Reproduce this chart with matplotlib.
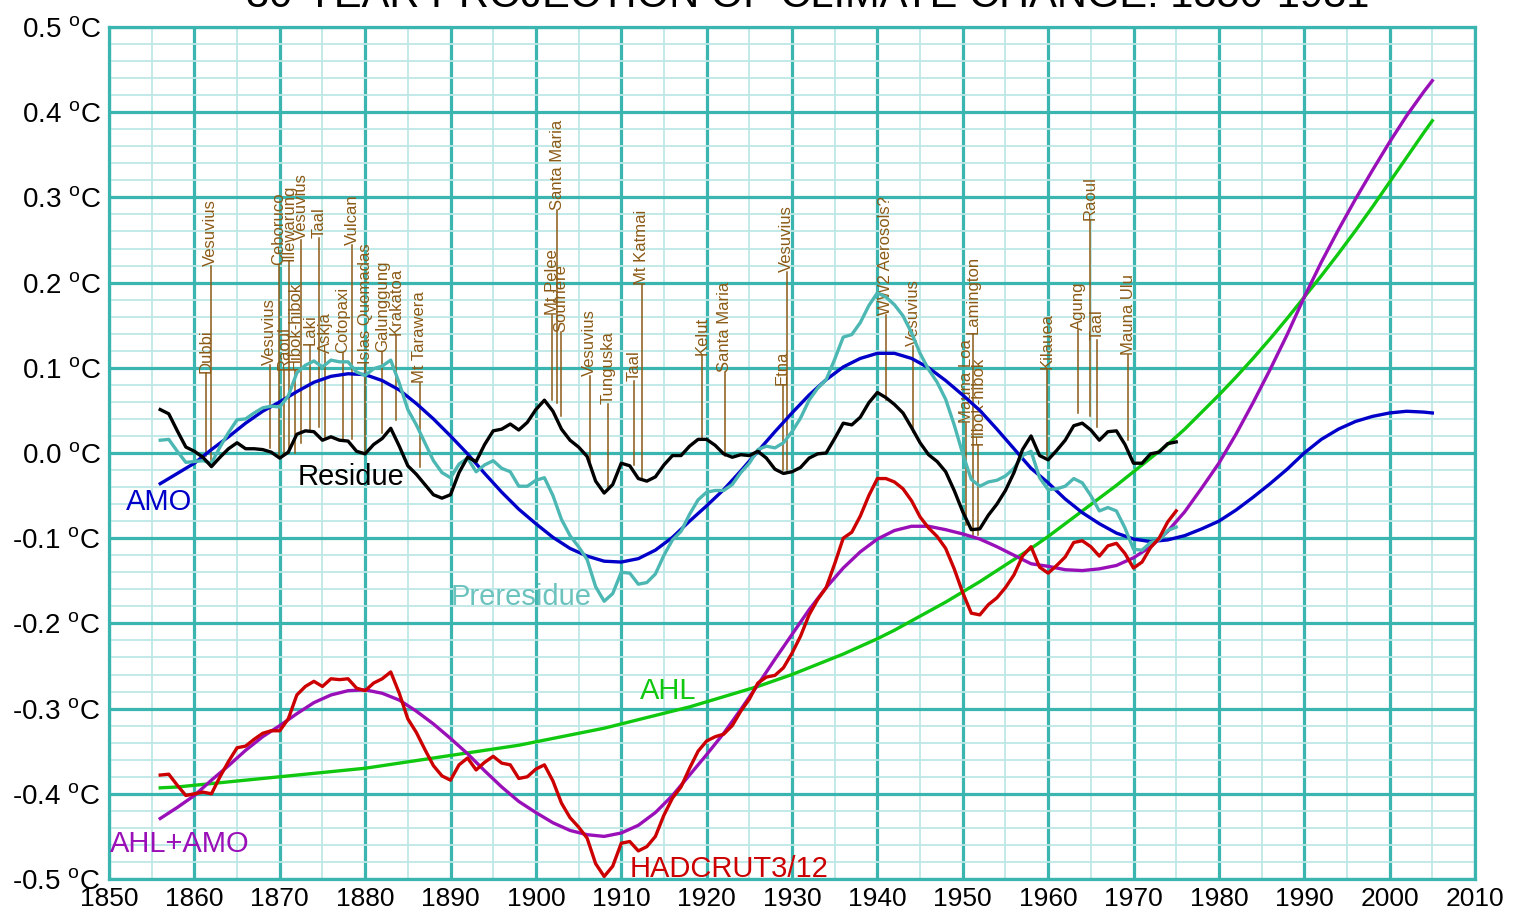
import matplotlib
matplotlib.use("Agg")
import matplotlib.pyplot as plt
from matplotlib.ticker import MultipleLocator

plt.rcParams['font.family'] = ['Liberation Sans', 'DejaVu Sans']
plt.rcParams['mathtext.fontset'] = 'custom'
plt.rcParams['mathtext.rm'] = 'Liberation Sans'
plt.rcParams['mathtext.it'] = 'Liberation Sans:italic'

# smooth model curves, sampled every 2 years (plus 2005)
model_years = list(range(1856, 2005, 2)) + [2005]

amo = [-0.036, -0.024, -0.012, 0.004, 0.019, 0.035, 0.049, 0.060, 0.072, 0.083,
       0.090, 0.093, 0.092, 0.085, 0.074, 0.058, 0.040, 0.020, -0.001, -0.024,
       -0.046, -0.066, -0.083, -0.099, -0.112, -0.121, -0.127, -0.128, -0.124, -0.114,
       -0.099, -0.080, -0.062, -0.043, -0.021, 0.002, 0.025, 0.047, 0.068, 0.086,
       0.101, 0.111, 0.117, 0.117, 0.111, 0.100, 0.085, 0.068, 0.050, 0.028,
       0.005, -0.018, -0.035, -0.054, -0.070, -0.083, -0.094, -0.101, -0.104, -0.102,
       -0.097, -0.089, -0.080, -0.067, -0.052, -0.036, -0.019, 0.000, 0.016, 0.028,
       0.037, 0.043, 0.047, 0.049, 0.048, 0.047]

ahl = [-0.393, -0.392, -0.390, -0.388, -0.386, -0.384, -0.382, -0.380, -0.378, -0.376,
       -0.374, -0.372, -0.370, -0.367, -0.364, -0.361, -0.358, -0.355, -0.352, -0.349,
       -0.346, -0.343, -0.339, -0.335, -0.331, -0.327, -0.323, -0.318, -0.313, -0.308,
       -0.303, -0.298, -0.292, -0.286, -0.280, -0.274, -0.267, -0.260, -0.252, -0.244,
       -0.236, -0.227, -0.218, -0.208, -0.197, -0.186, -0.175, -0.163, -0.151, -0.138,
       -0.125, -0.112, -0.098, -0.083, -0.068, -0.053, -0.038, -0.022, -0.006, 0.010,
       0.028, 0.048, 0.068, 0.089, 0.111, 0.134, 0.158, 0.183, 0.208, 0.234,
       0.261, 0.289, 0.318, 0.347, 0.376, 0.390]

ahl_amo = [-0.429, -0.416, -0.402, -0.384, -0.367, -0.349, -0.333, -0.320, -0.306, -0.293,
           -0.284, -0.279, -0.278, -0.282, -0.290, -0.303, -0.318, -0.335, -0.353, -0.373,
           -0.392, -0.409, -0.422, -0.434, -0.443, -0.448, -0.450, -0.446, -0.437, -0.422,
           -0.402, -0.378, -0.354, -0.329, -0.301, -0.272, -0.242, -0.213, -0.184, -0.158,
           -0.135, -0.116, -0.101, -0.091, -0.086, -0.086, -0.090, -0.095, -0.101, -0.110,
           -0.120, -0.130, -0.133, -0.137, -0.138, -0.136, -0.132, -0.123, -0.110, -0.092,
           -0.069, -0.041, -0.012, 0.022, 0.059, 0.098, 0.139, 0.183, 0.224, 0.262,
           0.298, 0.332, 0.365, 0.396, 0.424, 0.437]

# observed series, yearly 1856-1975
obs_years = list(range(1856, 1976))

hadcrut = [-0.378, -0.377, -0.390, -0.402, -0.400, -0.398, -0.400, -0.380, -0.362, -0.346,
           -0.344, -0.336, -0.329, -0.326, -0.326, -0.312, -0.284, -0.274, -0.268, -0.274,
           -0.265, -0.266, -0.265, -0.276, -0.279, -0.270, -0.265, -0.257, -0.282, -0.312,
           -0.328, -0.348, -0.367, -0.379, -0.384, -0.366, -0.358, -0.372, -0.363, -0.356,
           -0.364, -0.366, -0.382, -0.380, -0.371, -0.366, -0.385, -0.411, -0.428, -0.439,
           -0.452, -0.482, -0.497, -0.485, -0.458, -0.456, -0.467, -0.462, -0.450, -0.425,
           -0.405, -0.392, -0.370, -0.350, -0.338, -0.333, -0.330, -0.320, -0.303, -0.289,
           -0.270, -0.263, -0.261, -0.252, -0.235, -0.215, -0.190, -0.172, -0.158, -0.130,
           -0.100, -0.093, -0.074, -0.050, -0.030, -0.030, -0.034, -0.042, -0.056, -0.075,
           -0.088, -0.098, -0.112, -0.136, -0.164, -0.188, -0.190, -0.178, -0.170, -0.158,
           -0.143, -0.121, -0.110, -0.134, -0.141, -0.132, -0.122, -0.105, -0.103, -0.110,
           -0.121, -0.109, -0.106, -0.118, -0.135, -0.128, -0.111, -0.100, -0.081, -0.068]

preresidue = [0.015, 0.016, 0.002, -0.011, -0.010, -0.009, -0.012, 0.007, 0.024, 0.039,
              0.040, 0.047, 0.053, 0.055, 0.054, 0.067, 0.094, 0.103, 0.108, 0.101,
              0.109, 0.107, 0.107, 0.095, 0.091, 0.099, 0.102, 0.109, 0.082, 0.051,
              0.033, 0.012, -0.009, -0.023, -0.029, -0.013, -0.006, -0.022, -0.014, -0.009,
              -0.018, -0.022, -0.039, -0.039, -0.032, -0.029, -0.050, -0.078, -0.097, -0.110,
              -0.125, -0.157, -0.174, -0.165, -0.140, -0.141, -0.154, -0.152, -0.142, -0.120,
              -0.102, -0.092, -0.072, -0.055, -0.046, -0.044, -0.044, -0.037, -0.023, -0.012,
              0.004, 0.008, 0.006, 0.012, 0.025, 0.041, 0.062, 0.076, 0.086, 0.110,
              0.136, 0.139, 0.153, 0.173, 0.188, 0.183, 0.174, 0.161, 0.141, 0.117,
              0.098, 0.083, 0.063, 0.033, -0.001, -0.031, -0.039, -0.034, -0.032, -0.027,
              -0.018, -0.003, 0.002, -0.029, -0.043, -0.042, -0.039, -0.030, -0.035, -0.050,
              -0.068, -0.064, -0.068, -0.088, -0.113, -0.114, -0.105, -0.102, -0.091, -0.087]

residue = [0.051, 0.046, 0.026, 0.007, 0.002, -0.005, -0.016, -0.005, 0.005, 0.012,
           0.005, 0.005, 0.004, 0.001, -0.006, 0.001, 0.022, 0.026, 0.025, 0.015,
           0.019, 0.015, 0.014, 0.002, -0.001, 0.010, 0.017, 0.029, 0.008, -0.015,
           -0.025, -0.037, -0.049, -0.053, -0.049, -0.023, -0.005, -0.010, 0.010, 0.026,
           0.028, 0.034, 0.027, 0.036, 0.051, 0.062, 0.049, 0.028, 0.015, 0.007,
           -0.004, -0.033, -0.047, -0.037, -0.012, -0.015, -0.030, -0.033, -0.028, -0.014,
           -0.003, -0.003, 0.008, 0.016, 0.016, 0.009, -0.001, -0.005, -0.002, -0.003,
           0.002, -0.006, -0.019, -0.024, -0.022, -0.017, -0.006, -0.001, 0.000, 0.017,
           0.035, 0.033, 0.042, 0.059, 0.071, 0.065, 0.057, 0.047, 0.030, 0.012,
           -0.002, -0.010, -0.022, -0.044, -0.069, -0.090, -0.089, -0.073, -0.060, -0.044,
           -0.023, 0.004, 0.020, -0.003, -0.008, 0.003, 0.015, 0.032, 0.035, 0.027,
           0.015, 0.025, 0.026, 0.010, -0.012, -0.012, -0.001, 0.001, 0.011, 0.013]

# volcano annotations
volcano_names = ["Dubbi", "Vesuvius", "Vesuvius", "Ceboruco", "Raoul", "Illewarung",
                 "Hibok-hibok", "Vesuvius", "Laki", "Taal", "Askja", "Cotopaxi", "Vulcan",
                 "Islas Quemadas", "Galunggung", "Krakatoa", "Mt Tarawera",
                 "Mt Pelee", "Santa Maria", "Soufriere", "Vesuvius", "Tunguska", "Taal",
                 "Mt Katmai", "Kelut", "Santa Maria", "Etna", "Vesuvius",
                 "WW2 Aerosols?", "Vesuvius", "Mauna Loa", "Lamington", "Hibok-hibok",
                 "Kilauea", "Agung", "Raoul", "Taal", "Mauna Ulu"]
volcano_years = [1861.4, 1861.9, 1868.8, 1869.9, 1870.5, 1871.1,
                 1871.8, 1872.5, 1873.5, 1874.6, 1875.3, 1877.4, 1878.5,
                 1880.0, 1882.0, 1883.6, 1886.4,
                 1901.9, 1902.5, 1902.9, 1906.3, 1908.5, 1911.5,
                 1912.4, 1919.5, 1922.1, 1928.9, 1929.4,
                 1941.0, 1944.2, 1950.4, 1951.2, 1951.8,
                 1959.9, 1963.5, 1964.9, 1965.7, 1969.4]
volcano_bottoms = [-0.004, -0.008, 0.006, -0.004, -0.002, 0.000,
                   0.000, 0.012, 0.027, 0.031, 0.017, 0.017, 0.017,
                   0.002, 0.023, 0.039, -0.016,
                   0.062, 0.059, 0.043, -0.010, -0.043, -0.014,
                   -0.032, 0.015, -0.004, -0.020, -0.020,
                   0.062, 0.025, -0.085, -0.096, -0.096,
                   -0.004, 0.047, 0.043, 0.031, 0.015]
volcano_tops = [0.094, 0.219, 0.103, 0.221, 0.097, 0.225,
                0.097, 0.250, 0.127, 0.252, 0.117, 0.117, 0.244,
                0.105, 0.119, 0.138, 0.082,
                0.162, 0.285, 0.142, 0.090, 0.058, 0.084,
                0.197, 0.115, 0.095, 0.080, 0.213,
                0.162, 0.125, 0.035, 0.140, 0.009,
                0.099, 0.144, 0.273, 0.133, 0.115]

y_ticks = [-0.5, -0.4, -0.3, -0.2, -0.1, 0.0, 0.1, 0.2, 0.3, 0.4, 0.5]
x_ticks = list(range(1850, 2011, 10))

grid_major = '#3AB5B0'
grid_minor = '#BDE8E6'
brown = '#8B5A16'

fig = plt.figure(figsize=(15.25, 9.21), dpi=100)
ax = fig.add_axes([109 / 1525, 1 - 879 / 921, (1475 - 109) / 1525, (879 - 27) / 921])

ax.set_xlim(1850, 2010)
ax.set_ylim(-0.5, 0.5)
ax.xaxis.set_major_locator(MultipleLocator(10))
ax.xaxis.set_minor_locator(MultipleLocator(5))
ax.yaxis.set_major_locator(MultipleLocator(0.1))
ax.yaxis.set_minor_locator(MultipleLocator(0.02))
ax.grid(which='minor', color=grid_minor, lw=1.3, zorder=0)
ax.grid(which='major', color=grid_major, lw=2.3, zorder=1)
ax.set_axisbelow(True)
for sp in ax.spines.values():
    sp.set_color(grid_major)
    sp.set_linewidth(2.3)

ax.set_xticks(x_ticks)
ax.set_xticklabels([str(x) for x in x_ticks], fontsize=19)
ax.set_yticks(y_ticks)
ax.set_yticklabels([f"{v:.1f} $^{{\\mathrm{{o}}}}$C" for v in y_ticks], fontsize=20)
ax.tick_params(which='both', length=0)
ax.tick_params(axis='x', pad=6)
ax.tick_params(axis='y', pad=6)

# volcanoes
for name, yr, lo, hi in zip(volcano_names, volcano_years, volcano_bottoms, volcano_tops):
    ax.plot([yr, yr], [lo, hi], color=brown, lw=1.1, zorder=2)
    ax.text(yr, hi, name, rotation=90, ha='center', va='bottom', fontsize=12,
            color=brown, zorder=2)

# curves
ax.plot(model_years, ahl, color='#10C810', lw=2.4, zorder=3)
ax.plot(model_years, amo, color='#0000C8', lw=2.4, zorder=3)
ax.plot(model_years, ahl_amo, color='#9A10B8', lw=2.4, zorder=3)
ax.plot(obs_years, preresidue, color='#4DB8B3', lw=2.4, zorder=4)
ax.plot(obs_years, residue, color='black', lw=2.4, zorder=5)
ax.plot(obs_years, hadcrut, color='#CC0000', lw=2.4, zorder=5)

# curve labels
ax.text(1852.0, -0.058, "AMO", color='#0000C8', fontsize=21, va='center', ha='left')
ax.text(1872.1, -0.028, "Residue", color='black', fontsize=21, va='center', ha='left')
ax.text(1890.0, -0.169, "Preresidue", color='#6CC3BE', fontsize=21, va='center', ha='left')
ax.text(1912.2, -0.279, "AHL", color='#10C810', fontsize=21, va='center', ha='left')
ax.text(1850.1, -0.459, "AHL+AMO", color='#9A10B8', fontsize=21, va='center', ha='left')
ax.text(1911.0, -0.488, "HADCRUT3/12", color='#CC0000', fontsize=21, va='center', ha='left')

fig.text(808 / 1525, 1 - 7 / 921, "30-YEAR PROJECTION OF CLIMATE CHANGE: 1850-1981",
         fontsize=30, ha='center', va='baseline')

fig.savefig("out.png", dpi=100)
